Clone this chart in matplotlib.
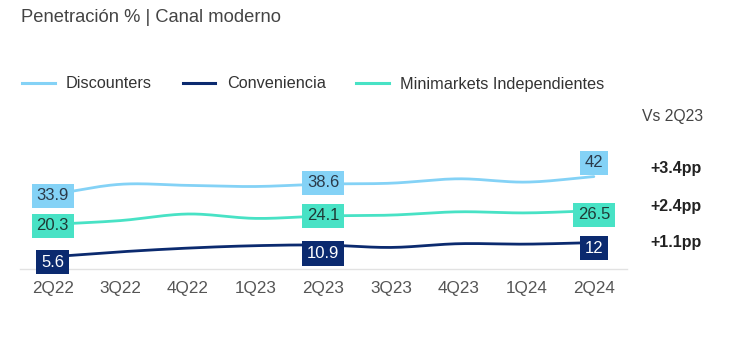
import numpy as np
import matplotlib
matplotlib.use("Agg")
import matplotlib.pyplot as plt
from matplotlib.lines import Line2D

plt.rcParams['font.family'] = ['Liberation Sans', 'DejaVu Sans']

# datos
quarters = ['2Q22', '3Q22', '4Q22', '1Q23', '2Q23', '3Q23', '4Q23', '1Q24', '2Q24']
discounters = [33.9, 38.5, 38.0, 37.5, 38.6, 39.0, 41.0, 39.5, 42.0]
conveniencia = [5.6, 7.8, 9.5, 10.6, 10.9, 9.8, 11.5, 11.3, 12.0]
minimarkets = [20.3, 22.0, 25.0, 23.0, 24.1, 24.5, 26.0, 25.5, 26.5]
series_names = ['Discounters', 'Conveniencia', 'Minimarkets Independientes']
labeled_idx = [0, 4, 8]
base_idx = 4  # Vs 2Q23

# estilos
line_colors = ['#84d2f6', '#0b2a6f', '#48e2c5']
box_colors = ['#84d2f6', '#0b2a6f', '#48e2c5']
text_colors = ['#2b3a4a', 'white', '#1f3a36']
# desplazamiento vertical de cada caja (puntos), por serie y punto etiquetado
box_offsets = [[-1, 1, 10], [-4, -6, -4], [-1, 0, -3]]


def smooth(y, n=20):
    # curva Catmull-Rom solo para dibujar
    y = np.asarray(y, float)
    p = np.concatenate([[2 * y[0] - y[1]], y, [2 * y[-1] - y[-2]]])
    xs, ys = [], []
    for i in range(len(y) - 1):
        t = np.linspace(0, 1, n, endpoint=False)
        p0, p1, p2, p3 = p[i], p[i + 1], p[i + 2], p[i + 3]
        v = 0.5 * (2 * p1 + (-p0 + p2) * t + (2 * p0 - 5 * p1 + 4 * p2 - p3) * t ** 2
                   + (-p0 + 3 * p1 - 3 * p2 + p3) * t ** 3)
        xs.append(i + t)
        ys.append(v)
    xs.append([len(y) - 1])
    ys.append([y[-1]])
    return np.concatenate(xs), np.concatenate(ys)


fig = plt.figure(figsize=(7.42, 3.4), dpi=100)
ax = fig.add_axes([19.5 / 742, 1 - 269 / 340, (627 - 19.5) / 742, 132 / 340])

all_series = [discounters, conveniencia, minimarkets]
x = np.arange(len(quarters))
for k, vals in enumerate(all_series):
    sx, sy = smooth(vals)
    ax.plot(sx, sy, color=line_colors[k], lw=2, solid_capstyle='round', zorder=2)
    for j, i in enumerate(labeled_idx):
        v = vals[i]
        txt = f"{v:g}"
        ax.annotate(txt, (x[i], v), xytext=(0, box_offsets[k][j]), textcoords='offset points',
                    ha='center', va='center', fontsize=12, color=text_colors[k], zorder=3,
                    bbox=dict(boxstyle='square,pad=0.28', fc=box_colors[k], ec='none'))

ax.set_xlim(-0.49, 8.49)
ax.set_ylim(0, 60)
ax.set_xticks(x)
ax.set_xticklabels(quarters, fontsize=12.3, color='#555555')
ax.tick_params(axis='x', length=0, pad=9)
ax.set_yticks([])
for s in ['top', 'right', 'left']:
    ax.spines[s].set_visible(False)
ax.spines['bottom'].set_color('#e2e2e2')
ax.spines['bottom'].set_linewidth(1)

fig.text(21 / 742, 1 - 18 / 340, 'Penetración % | Canal moderno', fontsize=13.2,
         color='#444444', va='center', ha='left')

handles = [Line2D([], [], color=c, lw=2.2) for c in line_colors]
fig.legend(handles, series_names, loc='center left', bbox_to_anchor=(22 / 742, 1 - 84 / 340),
           ncol=3, frameon=False, fontsize=11.7, handlelength=2.0, handletextpad=0.7,
           columnspacing=1.9, borderpad=0, borderaxespad=0, labelcolor='#333333')

fig.text(642 / 742, 1 - 117 / 340, 'Vs 2Q23', fontsize=11.3, color='#444444', va='center', ha='left')
delta_y = [168, 207, 243]
for k, vals in enumerate([discounters, minimarkets, conveniencia]):
    d = vals[-1] - vals[base_idx]
    fig.text(650 / 742, 1 - delta_y[k] / 340, f"+{d:.1f}pp", fontsize=11.5, fontweight='bold',
             color='#222222', va='center', ha='left')

fig.savefig('out.png', dpi=100)
